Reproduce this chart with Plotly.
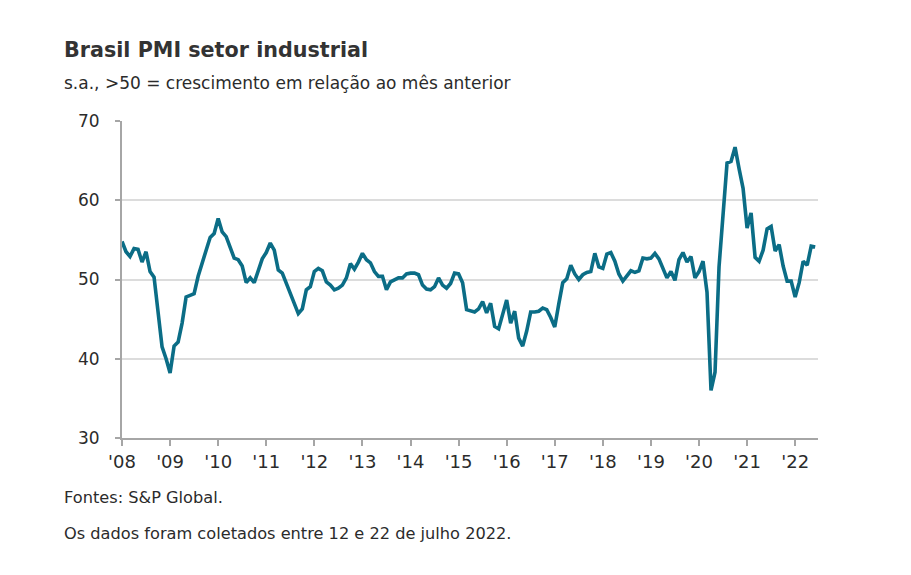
import plotly.graph_objects as go

# Monthly Brazil manufacturing PMI, Jan 2008 - Jun 2022
pmi_2008 = [54.8, 53.5, 52.9, 53.9, 53.8, 52.2, 53.5, 51.0, 50.3, 46.3, 41.5, 40.0]
pmi_2009 = [38.2, 41.6, 42.1, 44.5, 47.8, 48.0, 48.2, 50.4, 52.2, 53.7, 55.3, 55.8]
pmi_2010 = [57.7, 56.0, 55.4, 54.0, 52.7, 52.5, 51.7, 49.6, 50.2, 49.6, 51.0, 52.6]
pmi_2011 = [53.4, 54.6, 53.7, 51.2, 50.8, 49.5, 48.3, 47.0, 45.7, 46.3, 48.7, 49.1]
pmi_2012 = [51.0, 51.4, 51.1, 49.7, 49.3, 48.7, 48.9, 49.3, 50.2, 52.0, 51.3, 52.2]
pmi_2013 = [53.3, 52.5, 52.1, 51.0, 50.4, 50.4, 48.7, 49.7, 49.9, 50.2, 50.2, 50.7]
pmi_2014 = [50.8, 50.8, 50.6, 49.3, 48.8, 48.7, 49.1, 50.2, 49.3, 48.9, 49.5, 50.8]
pmi_2015 = [50.7, 49.6, 46.2, 46.0, 45.9, 46.3, 47.2, 45.8, 47.0, 44.1, 43.8, 45.6]
pmi_2016 = [47.4, 44.5, 46.0, 42.6, 41.6, 43.5, 45.9, 45.9, 46.0, 46.4, 46.2, 45.2]
pmi_2017 = [44.0, 46.9, 49.6, 50.1, 51.8, 50.7, 50.0, 50.6, 50.9, 51.0, 53.3, 51.6]
pmi_2018 = [51.4, 53.2, 53.4, 52.3, 50.7, 49.8, 50.5, 51.1, 50.9, 51.1, 52.7, 52.6]
pmi_2019 = [52.7, 53.3, 52.6, 51.5, 50.2, 51.0, 49.9, 52.5, 53.4, 52.2, 52.9, 50.2]
pmi_2020 = [51.0, 52.3, 48.4, 36.0, 38.3, 51.6, 58.2, 64.7, 64.9, 66.7, 64.0, 61.5]
pmi_2021 = [56.5, 58.4, 52.8, 52.3, 53.7, 56.4, 56.7, 53.6, 54.4, 51.7, 49.8, 49.8]
pmi_2022 = [47.8, 49.6, 52.3, 51.8, 54.2, 54.1]

pmi = (pmi_2008 + pmi_2009 + pmi_2010 + pmi_2011 + pmi_2012 + pmi_2013 + pmi_2014
       + pmi_2015 + pmi_2016 + pmi_2017 + pmi_2018 + pmi_2019 + pmi_2020 + pmi_2021 + pmi_2022)
months = list(range(len(pmi)))

year_labels = ["'08", "'09", "'10", "'11", "'12", "'13", "'14", "'15",
               "'16", "'17", "'18", "'19", "'20", "'21", "'22"]
year_ticks = [12 * i for i in range(len(year_labels))]
y_ticks = [30, 40, 50, 60, 70]

title_text = "Brasil PMI setor industrial"
subtitle_text = "s.a., >50 = crescimento em relação ao mês anterior"
source_text = "Fontes: S&P Global."
note_text = "Os dados foram coletados entre 12 e 22 de julho 2022."

FONT = "DejaVu Sans, Verdana, sans-serif"
TXT = "#2b2b2b"

fig = go.Figure()
fig.add_trace(go.Scatter(
    x=months, y=pmi, mode="lines",
    line=dict(color="#0b6d86", width=3.6, shape="linear"),
    hoverinfo="skip", showlegend=False,
))

L, R, T, B = 122, 93, 121, 137
W, H = 911, 575
pw, ph = W - L - R, H - T - B

def px_x(x):
    return (x - L) / pw

def px_y(y):
    return (H - B - y) / ph

fig.update_layout(
    width=W, height=H,
    margin=dict(l=L, r=R, t=T, b=B, pad=0),
    paper_bgcolor="white", plot_bgcolor="white",
    font=dict(family=FONT, color=TXT),
    xaxis=dict(
        range=[0, 173.7], tickvals=year_ticks, ticktext=year_labels,
        showgrid=False, zeroline=False,
        showline=True, linecolor="#a6a6a6", linewidth=2,
        ticks="outside", ticklen=6, tickcolor="#a6a6a6", tickwidth=1.5,
        tickfont=dict(size=18, color=TXT), fixedrange=True,
    ),
    yaxis=dict(
        range=[30, 70], tickvals=y_ticks,
        showgrid=True, gridcolor="#dcdcdc", gridwidth=1.5, zeroline=False,
        showline=True, linecolor="#a6a6a6", linewidth=2,
        ticks="outside", ticklen=5, tickcolor="#a6a6a6", tickwidth=1.5,
        tickfont=dict(size=17, color=TXT), ticklabelstandoff=12, fixedrange=True,
    ),
    annotations=[
        dict(text="<b>" + title_text + "</b>", xref="paper", yref="paper", x=px_x(62), y=px_y(50),
             xanchor="left", yanchor="middle", showarrow=False,
             font=dict(size=20.7, color="#333333", family=FONT)),
        dict(text=subtitle_text, xref="paper", yref="paper", x=px_x(62), y=px_y(83),
             xanchor="left", yanchor="middle", showarrow=False,
             font=dict(size=17, color=TXT, family=FONT)),
        dict(text=source_text, xref="paper", yref="paper", x=px_x(62), y=px_y(497),
             xanchor="left", yanchor="middle", showarrow=False,
             font=dict(size=16.2, color=TXT, family=FONT)),
        dict(text=note_text, xref="paper", yref="paper", x=px_x(62), y=px_y(533),
             xanchor="left", yanchor="middle", showarrow=False,
             font=dict(size=16.2, color=TXT, family=FONT)),
    ],
)

fig.write_html("out.html")
